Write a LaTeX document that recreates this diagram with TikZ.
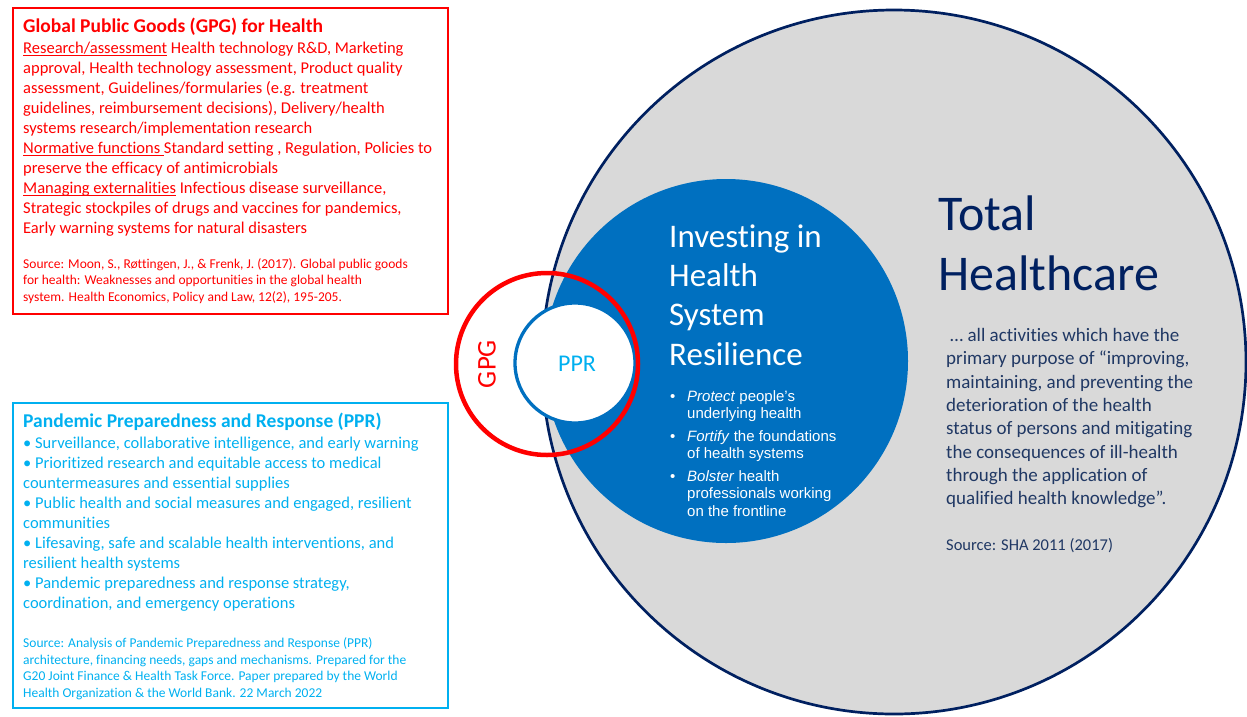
\documentclass[tikz,border=0pt]{standalone}
\usepackage{fontspec}
\setmainfont{Carlito}[Ligatures=NoCommon]
\newfontfamily\arialFont{Liberation Sans}
\definecolor{gpgRed}{HTML}{FF0000}
\definecolor{pprBlue}{HTML}{00B0F0}
\definecolor{resilienceBlue}{HTML}{0070C0}
\definecolor{totalGrey}{HTML}{D9D9D9}
\definecolor{totalNavy}{HTML}{002060}
\definecolor{quoteNavy}{HTML}{203864}
\newcommand{\boxTitleFont}{\fontsize{19.5}{20}\selectfont\bfseries}
\newcommand{\boxBodyFont}{\fontsize{16.5}{20}\selectfont}
\newcommand{\boxSourceFont}{\fontsize{13.5}{16.8}\selectfont}
\newcommand{\bulletFont}{\arialFont\fontsize{15}{17.6}\selectfont}
\newcommand{\underText}[1]{\setbox0\hbox{#1}\rlap{\rule[-2.6pt]{\wd0}{0.9pt}}\box0\relax}

\begin{document}
\begin{tikzpicture}[x=1pt, y=-1pt,
    textBlock/.style={anchor=north west, inner sep=0pt, align=left},
    circleLabel/.style={inner sep=0pt}]
\useasboundingbox (0,0) rectangle (1247,716);

% circles
\filldraw[fill=totalGrey, draw=totalNavy, line width=2.7pt] (894,362) circle [radius=352pt];
\fill[resilienceBlue] (726,361) circle [radius=182pt];
\filldraw[fill=white, draw=resilienceBlue, line width=3.3pt] (575,363) circle [radius=60pt];
\draw[gpgRed, line width=4.5pt] (547,364) circle [radius=91pt];
\node[circleLabel, gpgRed, rotate=90, font=\fontsize{27}{30}\selectfont] (gpgLabel) at (487,364) {GPG};
\node[circleLabel, pprBlue, font=\fontsize{24}{28}\selectfont] (pprLabel) at (577,364) {PPR};

% GPG box
\draw[gpgRed, line width=1.8pt] (12.7,8.3) rectangle (448,314);
\node[textBlock, gpgRed, font=\boxTitleFont] (gpgTitle) at (23,18) {\strut Global Public Goods (GPG) for Health};
\node[textBlock, gpgRed, font=\boxBodyFont] (gpgBody) at (23,39) {\strut\underText{Research/assessment} Health technology R\&D, Marketing\\
approval, Health technology assessment, Product quality\\
assessment, Guidelines/formularies (e.g. treatment\\
guidelines, reimbursement decisions), Delivery/health\\
systems research/implementation research\\
\underText{Normative functions }Standard setting , Regulation, Policies to\\
preserve the efficacy of antimicrobials\\
\underText{Managing externalities} Infectious disease surveillance,\\
Strategic stockpiles of drugs and vaccines for pandemics,\\
Early warning systems for natural disasters};
\node[textBlock, gpgRed, font=\boxSourceFont] (gpgSource) at (23,256.2) {\strut Source: Moon, S., Røttingen, J., \& Frenk, J. (2017). Global public goods\\
for health: Weaknesses and opportunities in the global health\\
system. Health Economics, Policy and Law, 12(2), 195-205.};

% PPR box
\draw[pprBlue, line width=1.8pt] (12.7,403) rectangle (448,708);
\node[textBlock, pprBlue, font=\boxTitleFont] (pprTitle) at (23,413) {\strut Pandemic Preparedness and Response (PPR)};
\node[textBlock, pprBlue, font=\boxBodyFont] (pprBody) at (23,434) {\strut• Surveillance, collaborative intelligence, and early warning\\
• Prioritized research and equitable access to medical\\
countermeasures and essential supplies\\
• Public health and social measures and engaged, resilient\\
communities\\
• Lifesaving, safe and scalable health interventions, and\\
resilient health systems\\
• Pandemic preparedness and response strategy,\\
coordination, and emergency operations};
\node[textBlock, pprBlue, font=\boxSourceFont] (pprSource) at (23,635.3) {\strut Source: Analysis of Pandemic Preparedness and Response (PPR)\\
architecture, financing needs, gaps and mechanisms. Prepared for the\\
G20 Joint Finance \& Health Task Force. Paper prepared by the World\\
Health Organization \& the World Bank. 22 March 2022};

% resilience disc
\node[textBlock, white, font=\fontsize{33}{39.3}\selectfont] (hsrTitle) at (669,219.5) {\strut Investing in\\
Health\\
System\\
Resilience};
\foreach \y/\txt [count=\i] in {401/{\textit{Protect} people’s\\underlying health},
    441/{\textit{Fortify} the foundations\\of health systems},
    481/{\textit{Bolster} health\\professionals working\\on the frontline}} {
  \node[textBlock, white, font=\bulletFont] (hsrBullet\i) at (670,\y-12.3) {\strut•};
  \node[textBlock, white, font=\bulletFont] (hsrItem\i) at (687,\y-12.3) {\strut\txt};
}

% total healthcare
\node[textBlock, totalNavy, font=\fontsize{50}{60}\selectfont] (totalTitle) at (938,188) {\strut Total\\
Healthcare};
\node[textBlock, quoteNavy, font=\fontsize{19}{23.3}\selectfont] (totalQuote) at (946,325) {\strut\hspace*{4pt}… all activities which have the\\
primary purpose of “improving,\\
maintaining, and preventing the\\
deterioration of the health\\
status of persons and mitigating\\
the consequences of ill-health\\
through the application of\\
qualified health knowledge”.};
\node[textBlock, quoteNavy, font=\fontsize{16.5}{20}\selectfont] (totalSource) at (946,536) {\strut Source: SHA 2011 (2017)};
\end{tikzpicture}
\end{document}
